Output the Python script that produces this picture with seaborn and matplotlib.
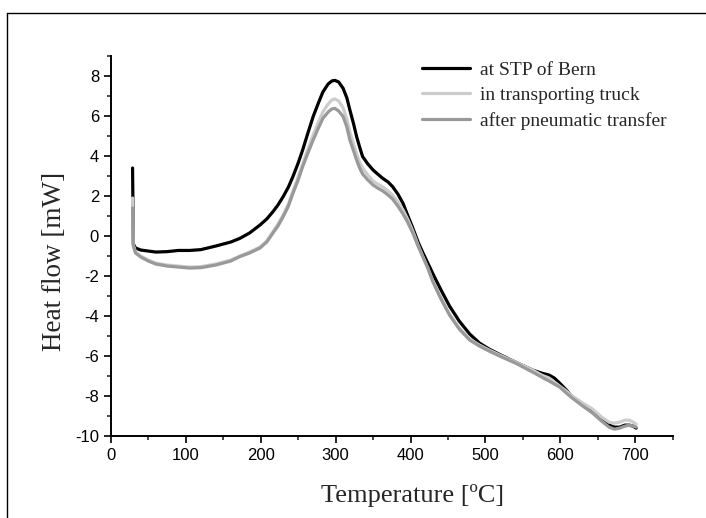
import matplotlib
matplotlib.use('Agg')
import matplotlib.pyplot as plt
from matplotlib.lines import Line2D
import numpy as np
import seaborn as sns

# temperature grid [C]
temp = [29, 30, 33, 40, 50, 60, 75, 90, 105, 120,
        140, 160, 172, 185, 199, 208, 216, 223, 230, 237,
        243, 250, 256, 263, 270, 277, 283, 290, 295, 299,
        304, 310, 315, 319, 324, 328, 332, 336, 343, 350,
        356, 363, 370, 376, 383, 390, 396, 403, 410, 416,
        423, 430, 440, 452, 465, 479, 492, 505, 519, 540,
        563, 575, 585, 592, 599, 608, 616, 630, 643, 655,
        665, 672, 679, 686, 692, 697, 701]

# heat flow [mW]
stp_bern = [3.4, -0.4, -0.6, -0.7, -0.75, -0.8, -0.78, -0.72, -0.72, -0.68,
            -0.5, -0.3, -0.12, 0.15, 0.55, 0.85, 1.2, 1.55, 1.97, 2.45,
            2.97, 3.65, 4.3, 5.15, 5.97, 6.65, 7.2, 7.6, 7.75, 7.78,
            7.7, 7.38, 6.9, 6.3, 5.6, 4.97, 4.45, 3.97, 3.6, 3.3,
            3.1, 2.88, 2.7, 2.47, 2.1, 1.63, 1.05, 0.4, -0.3, -0.8,
            -1.35, -1.9, -2.65, -3.5, -4.25, -4.9, -5.35, -5.65, -5.92, -6.3,
            -6.7, -6.85, -6.95, -7.1, -7.35, -7.7, -8.05, -8.4, -8.7, -9.1,
            -9.45, -9.55, -9.55, -9.45, -9.45, -9.5, -9.6]
truck = [1.9, -0.45, -0.8, -1.0, -1.2, -1.35, -1.45, -1.5, -1.55, -1.53,
         -1.4, -1.2, -1.0, -0.8, -0.55, -0.25, 0.2, 0.6, 1.05, 1.6,
         2.25, 2.95, 3.6, 4.35, 5.05, 5.7, 6.2, 6.6, 6.8, 6.85,
         6.75, 6.4, 5.85, 5.2, 4.6, 4.1, 3.7, 3.4, 3.05, 2.75,
         2.6, 2.45, 2.25, 2.05, 1.7, 1.3, 0.85, 0.25, -0.45, -1.0,
         -1.6, -2.3, -3.05, -3.9, -4.6, -5.15, -5.45, -5.7, -5.95, -6.3,
         -6.7, -6.95, -7.1, -7.3, -7.5, -7.75, -8.0, -8.35, -8.65, -9.05,
         -9.3, -9.35, -9.3, -9.2, -9.2, -9.3, -9.4]
pneumatic = [1.4, -0.5, -0.85, -1.05, -1.25, -1.4, -1.5, -1.55, -1.6, -1.58,
             -1.45, -1.25, -1.03, -0.85, -0.6, -0.3, 0.13, 0.5, 0.97, 1.5,
             2.13, 2.8, 3.47, 4.15, 4.8, 5.4, 5.88, 6.2, 6.35, 6.38,
             6.25, 5.97, 5.45, 4.8, 4.25, 3.8, 3.4, 3.1, 2.8, 2.55,
             2.4, 2.25, 2.05, 1.85, 1.5, 1.1, 0.7, 0.15, -0.5, -1.0,
             -1.6, -2.3, -3.1, -3.95, -4.65, -5.2, -5.5, -5.75, -6.0, -6.35,
             -6.8, -7.05, -7.25, -7.4, -7.55, -7.85, -8.1, -8.5, -8.85, -9.25,
             -9.55, -9.65, -9.6, -9.5, -9.45, -9.5, -9.55]

labels = ['at STP of Bern', 'in transporting truck', 'after pneumatic transfer']
colors = ['#000000', '#cccccc', '#999999']

sns.set_style("ticks")
plt.rcParams['font.family'] = ['Liberation Sans', 'DejaVu Sans']
plt.rcParams['axes.unicode_minus'] = False

fig = plt.figure(figsize=(7.06, 5.18), dpi=100)
ax = fig.add_axes([0.157, 0.158, 0.796, 0.734])

for series, lab, col in zip([stp_bern, truck, pneumatic], labels, colors):
    sns.lineplot(x=temp, y=series, sort=False, estimator=None, color=col,
                 linewidth=2.3, label=lab, ax=ax,
                 solid_joinstyle='round', solid_capstyle='round')

ax.set_xlim(0, 750)
ax.set_ylim(-10, 9)
ax.set_xticks([0, 100, 200, 300, 400, 500, 600, 700])
ax.set_xticks(np.arange(50, 751, 100), minor=True)
ax.set_yticks(np.arange(-10, 9, 2))
ax.set_yticks(np.arange(-9, 10, 2), minor=True)
ax.tick_params(axis='both', which='major', direction='out', length=5,
               width=1.2, labelsize=12, colors='black')
ax.tick_params(axis='both', which='minor', direction='out', length=3,
               width=1.2)
for s in ['left', 'bottom']:
    ax.spines[s].set_linewidth(1.4)
    ax.spines[s].set_color('black')
sns.despine(ax=ax)

ax.set_xlabel('Temperature [ºC]', fontsize=19, family='Liberation Serif')
ax.set_ylabel('Heat flow [mW]', fontsize=19.5, family='Liberation Serif')
ax.xaxis.set_label_coords(0.537, -0.125)
ax.yaxis.set_label_coords(-0.078, 0.46)

ax.legend(loc='upper left', bbox_to_anchor=(0.553, 0.985), frameon=False,
          prop={'family': 'Liberation Serif', 'size': 14},
          handlelength=2.5, labelspacing=0.38, handletextpad=0.5,
          borderpad=0, borderaxespad=0)

# outer frame (top and left edges)
fig.add_artist(Line2D([0.01, 1.0], [0.975, 0.975], color='black', lw=1))
fig.add_artist(Line2D([0.01, 0.01], [0.0, 0.975], color='black', lw=1))

fig.savefig('out.png', dpi=100)
